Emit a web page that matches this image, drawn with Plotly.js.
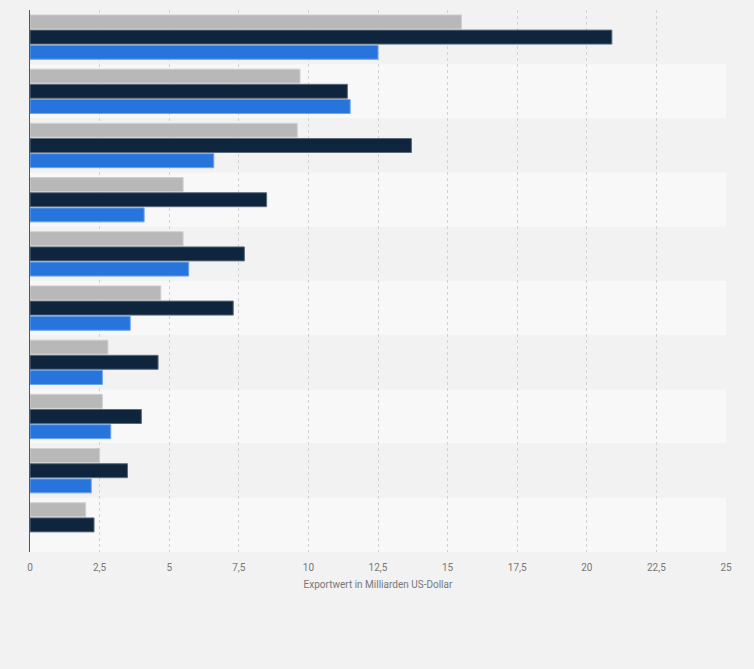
<!DOCTYPE html>
<html>
<head>
<meta charset="utf-8">
<script src="https://cdn.plot.ly/plotly-3.0.1.min.js"></script>
<style>
  html, body { margin: 0; padding: 0; background: #f2f2f2; }
  #chart { width: 754px; height: 669px; }
</style>
</head>
<body>
<div id="chart"></div>
<script>
// Ten export categories, three series each (values in billions of US dollars)
const categories = ["1", "2", "3", "4", "5", "6", "7", "8", "9", "10"];
const seriesGray = [15.5, 9.7, 9.6, 5.5, 5.5, 4.7, 2.8, 2.6, 2.5, 2.0];
const seriesNavy = [20.9, 11.4, 13.7, 8.5, 7.7, 7.3, 4.6, 4.0, 3.5, 2.3];
const seriesBlue = [12.5, 11.5, 6.6, 4.1, 5.7, 3.6, 2.6, 2.9, 2.2, null];
const xTicks = [0, 2.5, 5, 7.5, 10, 12.5, 15, 17.5, 20, 22.5, 25];

function barTrace(values, color, edge) {
  return {
    type: "bar",
    orientation: "h",
    y: categories,
    x: values,
    marker: { color: color, line: { color: edge, width: 1 } },
    hoverinfo: "x",
    showlegend: false
  };
}

const data = [
  barTrace(seriesGray, "#b8b8b8", "#d0d0d0"),
  barTrace(seriesNavy, "#0f253d", "#5b6b7c"),
  barTrace(seriesBlue, "#2775dc", "#6ea3e8")
];

// Alternating row bands behind each category group
const bands = categories.map((c, i) => ({
  type: "rect",
  layer: "below",
  xref: "paper",
  yref: "y",
  x0: 0,
  x1: 1,
  y0: i - 0.5,
  y1: i + 0.5,
  line: { width: 0 },
  fillcolor: i % 2 === 0 ? "#f2f2f2" : "#f8f8f8"
}));

const layout = {
  width: 754,
  height: 669,
  margin: { l: 30, r: 28, t: 10, b: 117 },
  paper_bgcolor: "#f2f2f2",
  plot_bgcolor: "#f2f2f2",
  separators: ",.",
  barmode: "group",
  bargap: 0.16,
  bargroupgap: 0.08,
  font: { family: "Roboto, Arial, sans-serif", size: 10, color: "#777777" },
  xaxis: {
    range: [0, 25],
    tickvals: xTicks,
    ticks: "outside",
    ticklen: 6,
    tickcolor: "rgba(0,0,0,0)",
    showgrid: true,
    gridcolor: "#d2d2d2",
    griddash: "dot",
    gridwidth: 1,
    zeroline: false,
    showline: false,
    tickfont: { size: 10, color: "#777777" },
    title: {
      text: "Exportwert in Milliarden US-Dollar",
      font: { size: 10, color: "#777777" },
      standoff: 8
    },
    fixedrange: true
  },
  yaxis: {
    type: "category",
    autorange: "reversed",
    showticklabels: false,
    ticks: "",
    showgrid: false,
    zeroline: false,
    showline: true,
    linecolor: "#555555",
    linewidth: 1.5,
    fixedrange: true
  },
  shapes: bands
};

Plotly.newPlot("chart", data, layout, { displayModeBar: false, staticPlot: true });
</script>
</body>
</html>
